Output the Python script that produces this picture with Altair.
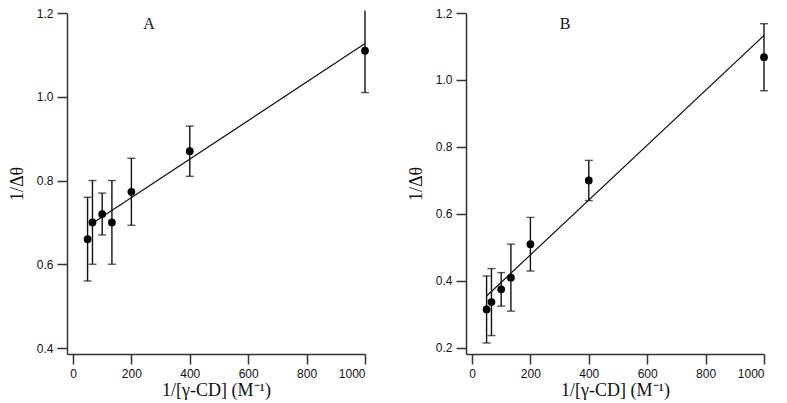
import altair as alt
import pandas as pd

x_vals = [50, 66.7, 100, 133.3, 200, 400, 1000]
a_y = [0.66, 0.70, 0.72, 0.70, 0.773, 0.87, 1.11]
a_err = [0.10, 0.10, 0.05, 0.10, 0.08, 0.06, 0.10]
b_y = [0.315, 0.337, 0.375, 0.41, 0.51, 0.70, 1.068]
b_err = [0.10, 0.10, 0.05, 0.10, 0.08, 0.06, 0.10]
a_fit_x = [66.7, 1000]
a_fit_y = [0.698, 1.127]
b_fit_x = [50, 1000]
b_fit_y = [0.355, 1.133]
x_ticks = [0, 200, 400, 600, 800, 1000]
a_y_ticks = [0.4, 0.6, 0.8, 1.0, 1.2]
b_y_ticks = [0.2, 0.4, 0.6, 0.8, 1.0, 1.2]

X_TITLE = "1/[γ-CD] (M⁻¹)"
Y_TITLE = "1/Δθ"
INK = "#111111"
AXIS_COLOR = "#333333"


def panel(ys, errs, fx, fy, ydom, yticks, label, lab_x):
    ytop = ydom[1]
    df = pd.DataFrame({
        "x": x_vals,
        "y": ys,
        "lo": [v - e for v, e in zip(ys, errs)],
        "hi": [min(v + e, ytop + 0.006) for v, e in zip(ys, errs)],
        "capped": [(v + e) > ytop for v, e in zip(ys, errs)],
    })
    fit = pd.DataFrame({"x": fx, "y": fy})
    xs = alt.Scale(domain=[-20.5, 1000], nice=False, zero=False)
    ys_ = alt.Scale(domain=ydom, nice=False, zero=False)
    xax = alt.Axis(values=x_ticks, title=X_TITLE, format="d")
    yax = alt.Axis(values=yticks, title=Y_TITLE, format=".1f")

    bars = alt.Chart(df).mark_rule(color=INK, strokeWidth=1.4).encode(
        x=alt.X("x:Q", scale=xs, axis=xax),
        y=alt.Y("lo:Q", scale=ys_, axis=yax),
        y2="hi:Q",
    )
    cap_lo = alt.Chart(df).mark_tick(color=INK, orient="horizontal", size=8,
                                     thickness=1.4).encode(
        x=alt.X("x:Q", scale=xs), y=alt.Y("lo:Q", scale=ys_))
    cap_hi = alt.Chart(df).transform_filter("!datum.capped").mark_tick(
        color=INK, orient="horizontal", size=8, thickness=1.4).encode(
        x=alt.X("x:Q", scale=xs), y=alt.Y("hi:Q", scale=ys_))
    pts = alt.Chart(df).mark_circle(color="#000000", size=60, opacity=1).encode(
        x=alt.X("x:Q", scale=xs), y=alt.Y("y:Q", scale=ys_))
    line = alt.Chart(fit).mark_line(color=INK, strokeWidth=1.2).encode(
        x=alt.X("x:Q", scale=xs), y=alt.Y("y:Q", scale=ys_))
    lab = alt.Chart(pd.DataFrame({"t": [label]})).mark_text(
        font="Liberation Serif", fontSize=16, color=INK
    ).encode(x=alt.value(lab_x), y=alt.value(11), text="t:N")
    return alt.layer(bars, cap_lo, cap_hi, line, pts, lab).properties(
        width=298, height=341)


pa = panel(a_y, a_err, a_fit_x, a_fit_y, [0.3857, 1.2], a_y_ticks, "A", 82)
pb = panel(b_y, b_err, b_fit_x, b_fit_y, [0.182, 1.2], b_y_ticks, "B", 99)

chart = alt.hconcat(pa, pb, spacing=36).properties(
    padding={"left": -1, "top": -2, "right": 0, "bottom": 0}
).configure_view(stroke="transparent").configure_axis(
    grid=False,
    domainColor=AXIS_COLOR,
    domainWidth=1.5,
    tickColor=AXIS_COLOR,
    tickWidth=1.5,
    tickSize=10,
    labelFont="Liberation Sans",
    labelFontSize=12,
    labelColor=INK,
    titleFont="Liberation Serif",
    titleFontSize=18,
    titleFontWeight="normal",
    titleColor=INK,
).configure_axisY(labelPadding=4, titlePadding=10).configure_axisX(
    labelPadding=4, titlePadding=2)

chart.save("out.html", embed_options={"renderer": "svg", "actions": False})
